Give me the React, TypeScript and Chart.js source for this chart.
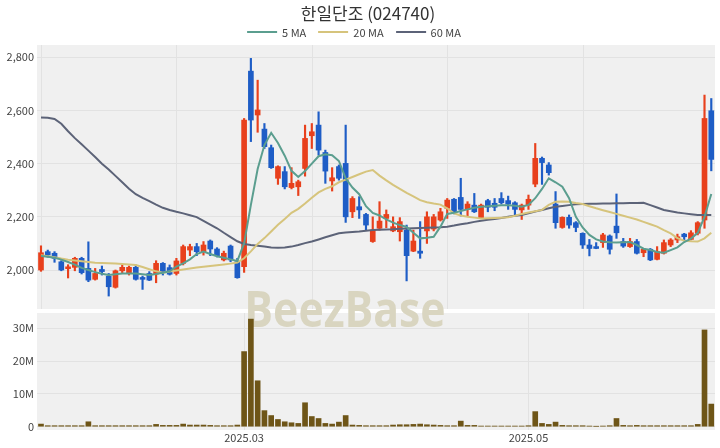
import React, { useEffect, useRef } from 'react';
import { Chart, registerables } from 'chart.js';

Chart.register(...registerables);

// ---- data ----
const opens = [
  2000, 2069, 2063, 2031, 2005, 2010, 2044, 2006, 1965, 2002,
  1977, 1935, 1997, 1990, 2010, 1972, 1987, 1985, 2025, 2009,
  1987, 2025, 2075, 2088, 2069, 2109, 2079, 2038, 2090, 2031,
  2013, 2748, 2583, 2530, 2460, 2345, 2370, 2310, 2313, 2382,
  2505, 2545, 2442, 2335, 2389, 2401, 2219, 2238, 2209, 2107,
  2157, 2194, 2147, 2144, 2150, 2071, 2071, 2147, 2154, 2188,
  2232, 2266, 2273, 2228, 2244, 2194, 2261, 2251, 2269, 2261,
  2253, 2226, 2244, 2323, 2420, 2395, 2248, 2160, 2198, 2178,
  2138, 2094, 2088, 2103, 2128, 2165, 2107, 2088, 2107, 2065,
  2078, 2040, 2063, 2094, 2113, 2135, 2115, 2138, 2188, 2599,
];
const highs = [
  2091, 2075, 2069, 2035, 2020, 2048, 2048, 2106, 2006, 2015,
  1987, 2000, 2019, 2015, 2019, 1977, 1994, 2035, 2028, 2019,
  2044, 2094, 2097, 2100, 2107, 2113, 2084, 2071, 2094, 2044,
  2570, 2796, 2714, 2551, 2470, 2392, 2389, 2385, 2338, 2545,
  2551, 2595, 2451, 2385, 2395, 2545, 2276, 2276, 2213, 2200,
  2257, 2226, 2200, 2197, 2169, 2150, 2182, 2219, 2209, 2232,
  2269, 2269, 2345, 2257, 2288, 2248, 2266, 2269, 2291, 2278,
  2257, 2248, 2282, 2476, 2425, 2404, 2295, 2200, 2207, 2182,
  2140, 2115, 2103, 2138, 2132, 2286, 2119, 2119, 2115, 2081,
  2081, 2088, 2113, 2118, 2135, 2138, 2148, 2182, 2658, 2645,
];
const lows = [
  1995, 2048, 2029, 1997, 1970, 1997, 1985, 1956, 1962, 1981,
  1902, 1932, 1990, 1981, 1962, 1927, 1960, 1952, 1981, 1981,
  1981, 2019, 2054, 2054, 2056, 2054, 2049, 2034, 2031, 1969,
  1991, 2483, 2518, 2457, 2382, 2322, 2305, 2305, 2280, 2353,
  2457, 2432, 2326, 2297, 2338, 2179, 2197, 2194, 2150, 2104,
  2150, 2159, 2144, 2109, 1959, 2069, 2044, 2100, 2147, 2184,
  2194, 2211, 2203, 2203, 2216, 2194, 2219, 2223, 2248, 2228,
  2207, 2190, 2228, 2313, 2322, 2357, 2157, 2157, 2157, 2144,
  2081, 2053, 2080, 2085, 2060, 2119, 2085, 2085, 2060, 2050,
  2035, 2038, 2060, 2088, 2103, 2113, 2113, 2132, 2157, 2373,
];
const closes = [
  2065, 2056, 2044, 2000, 2012, 2044, 1990, 1962, 1987, 1994,
  1937, 1997, 2010, 2010, 1965, 1965, 1962, 2025, 1994, 1984,
  2034, 2088, 2088, 2069, 2094, 2079, 2054, 2063, 2038, 1971,
  2564, 2564, 2602, 2464, 2385, 2389, 2313, 2326, 2332, 2495,
  2520, 2451, 2372, 2347, 2345, 2200, 2269, 2226, 2169, 2150,
  2184, 2209, 2163, 2182, 2054, 2109, 2063, 2200, 2200, 2219,
  2263, 2216, 2228, 2248, 2219, 2244, 2236, 2236, 2253, 2248,
  2228, 2244, 2266, 2420, 2404, 2366, 2178, 2198, 2169, 2160,
  2094, 2081, 2081, 2132, 2078, 2140, 2090, 2107, 2063, 2078,
  2038, 2069, 2103, 2113, 2125, 2125, 2140, 2178, 2570, 2416,
];
const volumes = [
  800000, 300000, 300000, 300000, 300000, 300000, 300000, 1500000, 300000, 300000,
  300000, 300000, 300000, 300000, 300000, 300000, 300000, 700000, 400000, 400000,
  400000, 800000, 500000, 500000, 500000, 400000, 300000, 300000, 300000, 500000,
  22900000, 32800000, 14000000, 4900000, 3400000, 2200000, 1500000, 1200000, 1000000, 7300000,
  3100000, 2500000, 1000000, 800000, 1400000, 3400000, 500000, 400000, 300000, 300000,
  300000, 300000, 500000, 600000, 600000, 700000, 800000, 600000, 500000, 400000,
  300000, 300000, 1700000, 400000, 400000, 200000, 200000, 200000, 200000, 200000,
  200000, 200000, 300000, 4600000, 1000000, 700000, 1400000, 400000, 300000, 300000,
  300000, 200000, 100000, 200000, 300000, 2500000, 400000, 300000, 400000, 300000,
  300000, 300000, 300000, 300000, 300000, 300000, 300000, 700000, 29500000, 6900000,
];
const ma5 = [
  2053, 2050, 2046, 2039, 2030, 2020, 2008, 2000, 1992, 1986,
  1981, 1984, 1987, 1987, 1987, 1984, 1981, 1985, 1990, 1995,
  2013, 2025, 2040, 2060, 2069, 2060, 2052, 2046, 2040, 2034,
  2100, 2245, 2380, 2470, 2516, 2478, 2430, 2373, 2350, 2372,
  2400, 2428, 2435, 2432, 2410, 2345, 2310, 2285, 2240, 2215,
  2205, 2190, 2178, 2169, 2162, 2140, 2119, 2121, 2125, 2163,
  2211, 2215, 2222, 2228, 2234, 2238, 2240, 2242, 2244, 2244,
  2242, 2238, 2245, 2270, 2305, 2345, 2330, 2313, 2270, 2200,
  2160, 2132, 2115, 2107, 2104, 2103, 2104, 2105, 2094, 2080,
  2075, 2068, 2065, 2075, 2085, 2105, 2118, 2140, 2200, 2286,
];
const ma20 = [
  2056, 2052, 2048, 2043, 2039, 2036, 2033, 2030, 2027, 2026,
  2025, 2024, 2023, 2021, 2019, 2011, 2003, 1995, 1990, 1994,
  1998, 2002, 2006, 2009, 2012, 2015, 2018, 2021, 2024, 2028,
  2044, 2070, 2098, 2120, 2145, 2170, 2192, 2215, 2230, 2250,
  2272, 2292, 2305, 2315, 2330, 2340, 2350, 2360, 2370, 2376,
  2355, 2337, 2320, 2305, 2290, 2277, 2263, 2255, 2250, 2246,
  2232, 2213, 2205, 2200, 2197, 2194, 2195, 2196, 2197, 2198,
  2204, 2211, 2216, 2221, 2226, 2245, 2257, 2258, 2257, 2252,
  2248, 2240, 2232, 2225, 2218, 2211, 2204, 2197, 2190, 2181,
  2172, 2163, 2150, 2138, 2120, 2110, 2108, 2107, 2119, 2140,
];
const ma60 = [
  2574, 2573, 2568, 2550, 2522, 2496, 2473, 2449, 2425, 2400,
  2378, 2354, 2330, 2306, 2285, 2271, 2259, 2246, 2234, 2226,
  2219, 2213, 2206, 2199, 2185, 2171, 2157, 2140, 2124, 2108,
  2098, 2094, 2091, 2088, 2085, 2084, 2085, 2088, 2094, 2101,
  2107, 2115, 2123, 2131, 2138, 2141, 2143, 2145, 2148, 2150,
  2151, 2152, 2153, 2155, 2156, 2157, 2158, 2159, 2160, 2161,
  2163, 2167, 2172, 2176, 2181, 2185, 2189, 2192, 2196, 2200,
  2204, 2207, 2213, 2220, 2226, 2232, 2238, 2241, 2244, 2247,
  2248, 2249, 2249, 2250, 2250, 2251, 2251, 2252, 2252, 2253,
  2244, 2235, 2226, 2221, 2216, 2213, 2210, 2207, 2207, 2207,
];
const priceTicks = [2000, 2200, 2400, 2600, 2800];
const volumeTicks = [0, 10000000, 20000000, 30000000];
const xTickIndex = [30, 72];
const xTickLabels = ['2025.03', '2025.05'];
const priceGridIndex = [0, 20, 40, 60, 80];
const maNames = ['5 MA', '20 MA', '60 MA'];

// ---- styles ----
const UP = '#e8401c';
const DOWN = '#1e5dc6';
const VOL = '#6e5517';
const MA_COLORS = ['#5b9e8f', '#d6c47c', '#5c6378'];
const PANEL_BG = '#f0f0f0';
const GRID = '#e2e2e2';
const TEXT = '#444';
const FONT = "'Noto Sans CJK KR', 'Noto Sans', sans-serif";

const panelPlugin = {
  id: 'panels',
  beforeDraw(chart: any) {
    const { ctx, chartArea: a, scales } = chart;
    const yp = scales.y;
    const yv = scales.yv;
    const x = scales.x;
    ctx.save();
    ctx.fillStyle = PANEL_BG;
    ctx.fillRect(a.left, yp.top, a.right - a.left, yp.bottom - 2 - yp.top);
    ctx.fillRect(a.left, yv.top + 2, a.right - a.left, yv.bottom - yv.top - 2);
    ctx.strokeStyle = GRID;
    ctx.lineWidth = 1;
    priceGridIndex.forEach((i) => {
      const px = Math.round(x.getPixelForValue(i)) + 0.5;
      ctx.beginPath();
      ctx.moveTo(px, yp.top);
      ctx.lineTo(px, yp.bottom - 2);
      ctx.stroke();
    });
    xTickIndex.forEach((i) => {
      const px = Math.round(x.getPixelForValue(i)) + 0.5;
      ctx.beginPath();
      ctx.moveTo(px, yv.top + 2);
      ctx.lineTo(px, yv.bottom);
      ctx.stroke();
    });
    ctx.restore();
  },
  beforeDatasetsDraw(chart: any) {
    const { ctx, scales } = chart;
    ctx.save();
    ctx.fillStyle = '#d9d5c0';
    ctx.font = `bold 46px 'Open Sans', sans-serif`;
    ctx.textAlign = 'center';
    ctx.textBaseline = 'alphabetic';
    ctx.translate(345, scales.y.bottom + 16);
    ctx.scale(0.93, 1.08);
    ctx.fillText('BeezBase', 0, 0);
    ctx.restore();
  },
};

export default function App() {
  const ref = useRef<HTMLCanvasElement>(null);

  useEffect(() => {
    if (!ref.current) return;
    const idx = closes.map((_, i) => i);
    const candleColors = idx.map((i) => (closes[i] >= opens[i] ? UP : DOWN));
    const maSeries = [ma5, ma20, ma60];

    const chart = new Chart(ref.current, {
      type: 'bar',
      data: {
        datasets: [
          ...maSeries.map((s, k) => ({
            type: 'line' as const,
            label: maNames[k],
            data: s.map((v, i) => ({ x: i, y: v })),
            borderColor: MA_COLORS[k],
            borderWidth: 2,
            pointRadius: 0,
            tension: 0,
            yAxisID: 'y',
            order: 0,
          })),
          {
            type: 'bar' as const,
            label: 'wick',
            data: idx.map((i) => ({ x: i, y: [lows[i], highs[i]] })) as any,
            backgroundColor: candleColors,
            barThickness: 1.5,
            grouped: false,
            yAxisID: 'y',
            order: 2,
          },
          {
            type: 'bar' as const,
            label: 'body',
            data: idx.map((i) => ({ x: i, y: [opens[i], closes[i]] })) as any,
            backgroundColor: candleColors,
            barThickness: 5,
            minBarLength: 1,
            grouped: false,
            yAxisID: 'y',
            order: 1,
          },
          {
            type: 'bar' as const,
            label: 'volume',
            data: idx.map((i) => ({ x: i, y: volumes[i] })) as any,
            backgroundColor: VOL,
            barThickness: 5,
            grouped: false,
            yAxisID: 'yv',
            order: 1,
          },
        ],
      },
      options: {
        responsive: false,
        animation: false,
        layout: { padding: { left: 0, right: 5, top: 45, bottom: 0 } },
        plugins: {
          legend: { display: false },
          title: { display: false },
          tooltip: { enabled: false },
        },
        scales: {
          x: {
            type: 'linear',
            min: -0.59,
            max: 99.55,
            offset: false,
            grid: { display: false, drawTicks: false },
            border: { display: false },
            afterBuildTicks: (s: any) => {
              s.ticks = xTickIndex.map((v) => ({ value: v }));
            },
            afterFit: (s: any) => {
              s.height = 18;
            },
            ticks: {
              autoSkip: false,
              maxRotation: 0,
              padding: 1,
              color: TEXT,
              font: { family: FONT, size: 11 },
              callback: (v: any) => {
                const k = xTickIndex.indexOf(Number(v));
                return k >= 0 ? xTickLabels[k] : '';
              },
            },
          },
          y: {
            type: 'linear',
            position: 'left',
            stack: 'panels',
            stackWeight: 266,
            weight: 2,
            min: 1845.8,
            max: 2846.3,
            grid: { color: GRID, drawTicks: false },
            border: { display: false },
            afterBuildTicks: (s: any) => {
              s.ticks = priceTicks.map((v) => ({ value: v }));
            },
            afterFit: (s: any) => {
              s.width = 37;
            },
            ticks: {
              padding: 3,
              color: TEXT,
              font: { family: FONT, size: 11 },
              callback: (v: any) => Number(v).toLocaleString('en-US'),
            },
          },
          yv: {
            type: 'linear',
            position: 'left',
            stack: 'panels',
            stackWeight: 119,
            weight: 1,
            min: -1006000,
            max: 35270000,
            grid: { color: GRID, drawTicks: false },
            border: { display: false },
            afterBuildTicks: (s: any) => {
              s.ticks = volumeTicks.map((v) => ({ value: v }));
            },
            afterFit: (s: any) => {
              s.width = 37;
            },
            ticks: {
              padding: 3,
              color: TEXT,
              font: { family: FONT, size: 11 },
              callback: (v: any) => (Number(v) === 0 ? '0' : Number(v) / 1000000 + 'M'),
            },
          },
        },
      } as any,
      plugins: [panelPlugin],
    });
    return () => chart.destroy();
  }, []);

  return (
    <div
      style={{
        position: 'fixed',
        left: 0,
        top: 0,
        width: 720,
        height: 448,
        background: '#fff',
        fontFamily: FONT,
        overflow: 'hidden',
      }}
    >
      <canvas ref={ref} width={720} height={448} style={{ position: 'absolute', left: 0, top: 0 }} />
      <div
        style={{
          position: 'absolute',
          left: 368,
          top: 2,
          transform: 'translateX(-50%)',
          whiteSpace: 'nowrap',
          fontSize: 17,
          color: '#333',
          lineHeight: '22px',
        }}
      >
        한일단조 (024740)
      </div>
      <div
        style={{
          position: 'absolute',
          left: 354,
          top: 24,
          transform: 'translateX(-50%)',
          whiteSpace: 'nowrap',
          display: 'flex',
          alignItems: 'center',
          fontSize: 11,
          color: TEXT,
          lineHeight: '16px',
        }}
      >
        {maNames.map((n, k) => (
          <span key={n} style={{ display: 'flex', alignItems: 'center', marginLeft: k === 0 ? 0 : 12 }}>
            <span
              style={{
                display: 'inline-block',
                width: 30,
                height: 2,
                background: MA_COLORS[k],
                marginRight: 5,
              }}
            />
            {n}
          </span>
        ))}
      </div>
    </div>
  );
}
